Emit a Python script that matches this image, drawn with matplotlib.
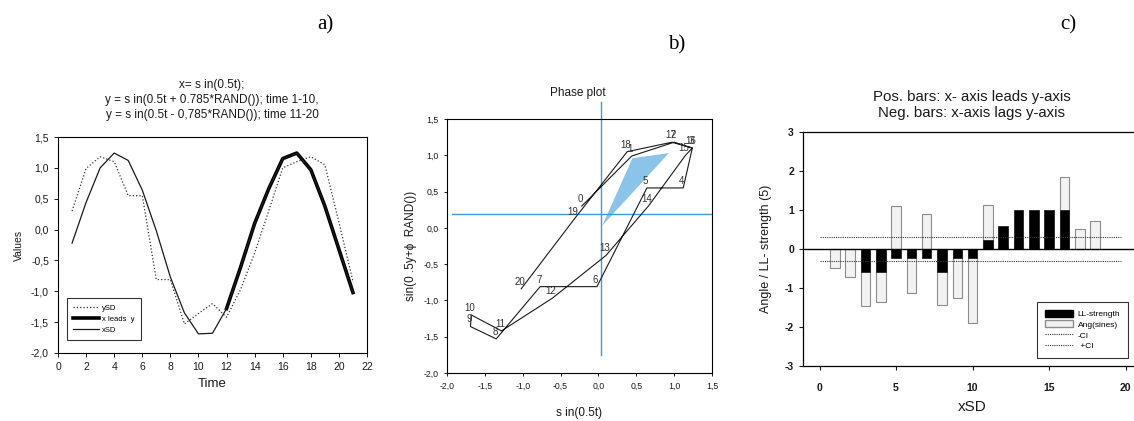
import matplotlib.pyplot as plt
from matplotlib.patches import Patch, Polygon
from matplotlib.lines import Line2D
from matplotlib.ticker import FuncFormatter, MultipleLocator

plt.rcParams['font.family'] = ['Liberation Sans', 'DejaVu Sans']
plt.rcParams['axes.unicode_minus'] = False

# --- panel a / b: the two series ---
time = list(range(1, 22))
x_sd = [-0.22, 0.44, 1.00, 1.24, 1.12, 0.64, -0.02, -0.77, -1.35, -1.69, -1.68,
        -1.28, -0.61, 0.10, 0.66, 1.15, 1.24, 0.97, 0.38, -0.32, -1.02]
y_sd = [0.30, 0.99, 1.18, 1.10, 0.55, 0.55, -0.81, -0.81, -1.53, -1.36, -1.20,
        -1.42, -0.97, -0.38, 0.30, 1.00, 1.10, 1.18, 1.05, 0.12, -0.84]
lead_from = 12  # "x leads y" segment starts here

# phase plot extras
point_ids = list(range(21))
fan_x = [0.05, 0.45, 0.93]
fan_y = [0.03, 0.96, 1.03]
cross_x = 0.03
cross_y = 0.19

# --- panel c ---
bar_x = list(range(1, 19))
ll_strength = [0, 0, -0.6, -0.6, -0.22, -0.22, -0.22, -0.6, -0.22, -0.22,
               0.22, 0.6, 1.0, 1.0, 1.0, 1.0, 0, 0]
ang_sines = [-0.48, -0.71, -1.46, -1.36, 1.10, -1.13, 0.90, -1.43, -1.26, -1.90,
             1.13, 0.08, 0.20, 0.08, 0.0, 1.84, 0.51, 0.72]
ci = 0.32

W, H = 1134, 421
fig = plt.figure(figsize=(W / 100, H / 100), dpi=100)
ink = '#1a1a1a'


def add_ax(l, t, r, b):
    return fig.add_axes([l / W, 1 - b / H, (r - l) / W, (b - t) / H])


def comma(v, _):
    return f'{v:.1f}'.replace('.', ',')


# ---------- a) ----------
ax = add_ax(58, 137, 367, 353)
ax.plot(time, y_sd, ls=':', lw=0.9, color='#333333', label='ySD')
i0 = time.index(lead_from)
ax.plot(time[i0:], x_sd[i0:], lw=2.6, color='black', label='x leads  y')
ax.plot(time, x_sd, lw=0.9, color=ink, label='xSD')
ax.set_xlim(0, 22)
ax.set_ylim(-2.0, 1.5)
ax.xaxis.set_major_locator(MultipleLocator(2))
ax.yaxis.set_major_locator(MultipleLocator(0.5))
ax.yaxis.set_major_formatter(FuncFormatter(comma))
ax.tick_params(labelsize=7.5, length=3, width=0.7, colors=ink)
ax.set_xlabel('Time', fontsize=9.5, color=ink, labelpad=4)
ax.set_ylabel('Values', fontsize=7.5, color=ink, labelpad=5)
for s in ax.spines.values():
    s.set_linewidth(0.8)
leg = ax.legend(loc='lower left', bbox_to_anchor=(9 / 309, 13 / 216), borderaxespad=0,
                fontsize=5.5, frameon=True, fancybox=False, handlelength=3.4,
                labelspacing=0.5, borderpad=0.8, handletextpad=0.4)
leg.get_frame().set_edgecolor('black')
leg.get_frame().set_linewidth(0.8)
fig.text(212 / W, 1 - 85 / H, 'x= s in(0.5t);', ha='center', va='center', fontsize=8.5, color=ink)
fig.text(212 / W, 1 - 100 / H, 'y = s in(0.5t + 0.785*RAND()); time 1-10,', ha='center',
         va='center', fontsize=8.5, color=ink)
fig.text(212 / W, 1 - 115 / H, 'y = s in(0.5t - 0,785*RAND()); time 11-20', ha='center',
         va='center', fontsize=8.5, color=ink)

# ---------- b) ----------
bx = add_ax(447, 119, 712, 373)
bx.add_patch(Polygon(list(zip(fan_x, fan_y)), closed=True, color='#8cc3e8', lw=0, zorder=1))
bx.plot(x_sd, y_sd, lw=0.8, color=ink, zorder=3)
for i, xv, yv in zip(point_ids, x_sd, y_sd):
    bx.annotate(str(i), (xv, yv), xytext=(-1, 1.5), textcoords='offset points',
                ha='center', va='bottom', fontsize=7, color='#333333', zorder=4)
bx.plot([-1.93, 1.5], [cross_y, cross_y], color='#3a9ad9', lw=1.0, zorder=2)
bx.plot([cross_x, cross_x], [-1.75, 1.73], color='#3a9ad9', lw=1.0, zorder=2, clip_on=False)
bx.set_xlim(-2.0, 1.5)
bx.set_ylim(-2.0, 1.5)
bx.xaxis.set_major_locator(MultipleLocator(0.5))
bx.yaxis.set_major_locator(MultipleLocator(0.5))
bx.xaxis.set_major_formatter(FuncFormatter(comma))
bx.yaxis.set_major_formatter(FuncFormatter(comma))
bx.tick_params(labelsize=6.3, length=2.5, width=0.7, colors=ink)
bx.set_xlabel('s in(0.5t)', fontsize=8.5, color=ink, labelpad=12)
bx.set_ylabel('sin(0 .5y+\u03d5  RAND())', fontsize=8.5, color=ink, labelpad=5)
for s in bx.spines.values():
    s.set_linewidth(0.8)
fig.text(578 / W, 1 - 93 / H, 'Phase plot', ha='center', va='center', fontsize=8.5, color=ink)

# ---------- c) ----------
cx = add_ax(803, 132, 1141, 366)
cx.bar(bar_x, ang_sines, width=0.62, color='#f2f2f2', edgecolor='#8c8c8c', lw=0.8,
       zorder=2, label='Ang(sines)')
cx.bar(bar_x, ll_strength, width=0.62, color='black', edgecolor='#222222', lw=0.6,
       zorder=3, label='LL-strength')
cx.axhline(0, color='black', lw=1.0, zorder=4)
cx.plot([0, 19.7], [-ci, -ci], ls=(0, (1, 1)), color='#333333', lw=0.8, zorder=5)
cx.plot([0, 19.7], [ci, ci], ls=(0, (1, 1)), color='#333333', lw=0.8, zorder=5)
cx.set_xlim(-1.08, 21)
cx.set_ylim(-3, 3)
cx.set_xticks([0, 5, 10, 15, 20])
cx.set_yticks(range(-3, 4))
cx.tick_params(axis='x', length=0, pad=9)
cx.tick_params(labelsize=7.5, width=0.8, length=3, colors=ink)
for lab in cx.get_xticklabels() + cx.get_yticklabels():
    lab.set_fontweight('bold')
cx.set_xlabel('xSD', fontsize=11, color=ink, labelpad=5)
cx.set_ylabel('Angle / LL- strength (5)', fontsize=9, color=ink, labelpad=9)
for s in cx.spines.values():
    s.set_linewidth(0.9)
handles = [Patch(facecolor='black', edgecolor='black', label='LL-strength'),
           Patch(facecolor='#f2f2f2', edgecolor='#8c8c8c', label='Ang(sines)'),
           Line2D([], [], ls=(0, (1, 1)), color='#333333', lw=0.8, label='-CI'),
           Line2D([], [], ls=(0, (1, 1)), color='#333333', lw=0.8, label=' +CI')]
leg = cx.legend(handles=handles, loc='lower left', bbox_to_anchor=(234 / 338, 8 / 234),
                borderaxespad=0, fontsize=6, frameon=True, fancybox=False,
                handlelength=3.4, handleheight=0.9, labelspacing=0.3, borderpad=0.9,
                handletextpad=0.6)
leg.get_frame().set_edgecolor('black')
leg.get_frame().set_linewidth(0.8)
fig.text(972 / W, 1 - 97 / H, 'Pos. bars: x- axis leads y-axis', ha='center', va='center',
         fontsize=10.8, color=ink)
fig.text(972 / W, 1 - 113 / H, 'Neg. bars: x-axis lags y-axis', ha='center', va='center',
         fontsize=10.8, color=ink)

# panel letters
for lx, ly, t in [(325, 25, 'a)'), (677, 45, 'b)'), (1068, 25, 'c)')]:
    fig.text(lx / W, 1 - ly / H, t, ha='center', va='center', fontsize=15,
             fontfamily='Liberation Serif', color='black')

fig.savefig('out.png', dpi=100)
